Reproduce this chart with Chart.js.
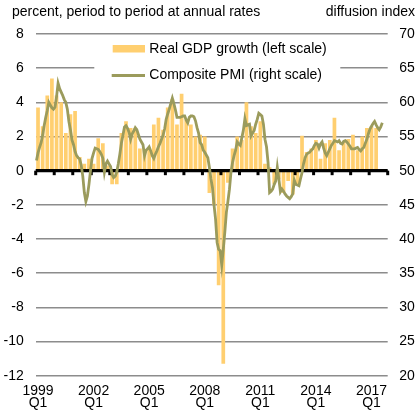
<!DOCTYPE html>
<html>
<head>
<meta charset="utf-8">
<script src="https://cdn.jsdelivr.net/npm/chart.js@4/dist/chart.umd.min.js"></script>
<style>
  html, body { margin: 0; padding: 0; background: #fff; }
  #wrap { position: relative; width: 418px; height: 418px; }
  canvas { position: absolute; left: 0; top: 0; }
  .atitle { position: absolute; top: 3px; font: 14px "Liberation Sans", Arial, sans-serif; color: #000; white-space: nowrap; }
</style>
</head>
<body>
<div id="wrap">
  <canvas id="c" width="418" height="418"></canvas>
  <div class="atitle" style="left:12px;">percent, period to period at annual rates</div>
  <div class="atitle" style="right:3px;">diffusion index</div>
</div>
<script>
// ---- Data ----
const firstYear = 1999;
const lastYear = 2017;
const tickYears = ['1999', '2002', '2005', '2008', '2011', '2014', '2017'];
const legendLabels = ['Real GDP growth (left scale)', 'Composite PMI (right scale)'];

// Real GDP growth, quarterly, % q/q at annual rates (1999Q1 - 2017Q2)
const gdpGrowth = [
  3.7, 2.6, 4.4, 5.4,
  4.4, 4.0, 2.2, 3.3,
  3.5, 0.8, 0.4, 0.7,
  0.4, 1.9, 1.6, 0.3,
  -0.8, -0.8, 2.2, 2.9,
  2.5, 2.5, 1.3, 1.2,
  1.3, 2.7, 3.1, 2.4,
  3.7, 4.2, 2.7, 4.5,
  3.0, 2.7, 2.0, 2.1,
  2.0, -1.3, -2.0, -6.7,
  -11.3, -0.7, 1.3, 2.0,
  1.8, 4.0, 2.6, 2.2,
  2.9, 0.4, 0.2, -0.8,
  -0.5, -1.3, -0.6, -1.4,
  -0.8, 2.05, 1.1, 1.3,
  1.8, 0.7, 1.6, 1.8,
  3.1, 1.2, 1.7, 1.85,
  2.1, 1.2, 2.0, 2.5,
  2.6, 2.5
];

// Composite PMI, monthly diffusion index (Jan 1999 - Sep 2017)
const compositePMI = [
  51.5, 52.6, 53.4, 54.1, 55.2, 56.6, 57.8, 58.8, 60.0, 59.6, 59.2, 59.0,
  59.3, 60.8, 62.8, 62.0, 61.5, 61.0, 60.4, 60.0, 59.0, 57.2, 56.0, 54.5,
  53.8, 52.8, 52.2, 51.9, 51.7, 50.8, 49.2, 46.8, 45.5, 46.3, 48.0, 50.0,
  51.8, 52.6, 53.3, 53.2, 53.1, 52.8, 52.4, 51.8, 49.8, 51.0, 51.4, 51.0,
  50.6, 49.4, 49.0, 49.2, 49.8, 51.0, 52.4, 54.0, 55.2, 56.4, 56.6, 56.2,
  55.6, 54.6, 55.4, 55.8, 56.3, 56.0, 55.3, 54.6, 54.2, 53.8, 52.2, 53.0,
  53.2, 53.5, 52.9, 52.2, 51.8, 52.4, 52.9, 53.5, 54.0, 54.6, 55.2, 56.1,
  57.5, 58.3, 59.0, 59.8, 60.6, 59.8, 58.9, 57.8, 57.8, 57.8, 57.9, 58.0,
  58.0, 57.4, 57.0, 57.8, 58.0, 58.0, 57.9, 57.3, 56.3, 55.5, 54.1, 53.8,
  53.0, 52.7, 52.3, 51.9, 50.5, 48.8, 47.5, 45.0, 42.9, 39.5, 38.5, 38.3,
  36.2, 38.5, 41.0, 43.9, 45.5, 47.3, 49.8, 51.2, 52.2, 53.0, 54.2, 53.9,
  53.7, 54.8, 55.9, 57.6, 56.6, 56.7, 56.8, 55.1, 55.5, 55.9, 56.8, 57.5,
  58.4, 58.2, 58.0, 56.8, 54.6, 53.5, 51.2, 46.8, 47.0, 47.3, 48.0, 48.5,
  50.5, 48.8, 46.9, 47.3, 47.0, 46.6, 46.3, 46.1, 45.9, 46.2, 46.6, 48.6,
  48.0, 47.9, 47.8, 48.8, 49.7, 51.0, 51.9, 52.4, 52.6, 52.7, 53.0, 53.2,
  53.7, 54.0, 53.9, 53.3, 53.9, 54.2, 53.3, 52.6, 52.2, 52.7, 53.2, 53.7,
  54.0, 54.4, 54.3, 54.2, 54.4, 54.0, 53.9, 54.3, 54.4, 54.2, 53.9, 53.6,
  53.2, 53.2, 53.2, 53.3, 53.4, 53.1, 52.9, 53.2, 53.4, 54.0, 54.6, 55.4,
  56.1, 56.5, 56.9, 57.2, 56.7, 56.3, 56.0, 56.4, 57.0
];

// Category labels (quarters for bars, months for the PMI line)
const quarterLabels = [];
const monthLabels = [];
for (let y = firstYear; y <= lastYear; y++) {
  for (let q = 1; q <= 4; q++) quarterLabels.push(y + ' Q' + q);
  for (let m = 1; m <= 12; m++) monthLabels.push(y + '-' + String(m).padStart(2, '0'));
}

// ---- Styles ----
const barColor = '#FFCF70';
const lineColor = '#9B9B5C';
const gridColor = '#8C8C8C';
const FONT = '"Liberation Sans", Arial, sans-serif';

// zero axis with yearly tick marks, drawn after the bars
const zeroAxisPlugin = {
  id: 'zeroAxis',
  afterDatasetDraw(chart, args) {
    if (args.meta.type !== 'bar') return;
    const ctx = chart.ctx, area = chart.chartArea;
    const xs = chart.scales.x, ys = chart.scales.y;
    const y0 = ys.getPixelForValue(0);
    const step = (area.right - area.left) / quarterLabels.length;
    ctx.save();
    ctx.strokeStyle = '#000';
    ctx.lineWidth = 3.2;
    ctx.beginPath();
    ctx.moveTo(area.left, y0);
    ctx.lineTo(area.right, y0);
    ctx.stroke();
    ctx.lineWidth = 3;
    for (let i = 0; i <= quarterLabels.length; i += 4) {
      const px = (i < quarterLabels.length ? xs.getPixelForValue(i) - step / 2 : area.right);
      ctx.beginPath();
      ctx.moveTo(px, y0);
      ctx.lineTo(px, y0 + 4.5);
      ctx.stroke();
    }
    ctx.restore();
  }
};

// legend box inside the plot (covers the gridline behind it)
const legendBoxPlugin = {
  id: 'legendBox',
  beforeDatasetsDraw(chart) {
    const ctx = chart.ctx, a = chart.chartArea;
    const x0 = a.left + 58.6, y0 = a.top + 4;
    ctx.save();
    ctx.fillStyle = '#fff';
    ctx.fillRect(x0, y0, 246, 58);
    ctx.fillStyle = barColor;
    ctx.fillRect(a.left + 77, a.top + 11, 32.3, 7.5);
    ctx.strokeStyle = lineColor;
    ctx.lineWidth = 2.8;
    ctx.beginPath();
    ctx.moveTo(a.left + 76, a.top + 41.5);
    ctx.lineTo(a.left + 109.3, a.top + 41.5);
    ctx.stroke();
    ctx.fillStyle = '#000';
    ctx.font = '14px ' + FONT;
    ctx.textBaseline = 'middle';
    ctx.textAlign = 'left';
    ctx.fillText(legendLabels[0], a.left + 113.6, a.top + 15.5);
    ctx.fillText(legendLabels[1], a.left + 113.6, a.top + 41.5);
    ctx.restore();
  }
};

new Chart(document.getElementById('c'), {
  type: 'bar',
  data: {
    labels: quarterLabels,
    datasets: [
      {
        type: 'bar',
        label: legendLabels[0],
        data: gdpGrowth,
        backgroundColor: barColor,
        borderWidth: 0,
        xAxisID: 'x',
        yAxisID: 'y',
        grouped: false,
        barPercentage: 0.8,
        categoryPercentage: 1.0,
        order: 1
      },
      {
        type: 'line',
        label: legendLabels[1],
        data: compositePMI,
        borderColor: lineColor,
        borderWidth: 2.8,
        pointRadius: 0,
        tension: 0,
        fill: false,
        xAxisID: 'x2',
        yAxisID: 'y2',
        order: 0
      }
    ]
  },
  options: {
    responsive: false,
    animation: false,
    layout: { padding: { top: 34, left: 0, right: 0, bottom: 0 } },
    plugins: {
      legend: { display: false },
      tooltip: { enabled: false },
      title: { display: false }
    },
    scales: {
      x: {
        type: 'category',
        offset: true,
        grid: { display: false, drawTicks: false },
        border: { display: false },
        ticks: {
          autoSkip: false,
          maxRotation: 0,
          minRotation: 0,
          padding: 9,
          color: '#000',
          font: { family: FONT, size: 14, lineHeight: 0.86 },
          callback(val, idx) {
            const parts = quarterLabels[idx].split(' ');
            if (parts[1] === 'Q1' && tickYears.includes(parts[0])) return [parts[0], 'Q1'];
            return '';
          }
        },
        afterFit(s) { s.height = 42.3; }
      },
      x2: {
        type: 'category',
        labels: monthLabels,
        offset: true,
        display: false
      },
      y: {
        position: 'left',
        min: -12,
        max: 8,
        ticks: { stepSize: 2, padding: 12, color: '#000', font: { family: FONT, size: 14 } },
        grid: {
          drawTicks: false,
          color: gridColor,
          lineWidth: 1.4
        },
        border: { display: false },
        afterFit(s) { s.width = 35.7; }
      },
      y2: {
        position: 'right',
        min: 20,
        max: 70,
        ticks: { stepSize: 5, padding: 11.5, color: '#000', font: { family: FONT, size: 14 } },
        grid: { display: false, drawTicks: false },
        border: { display: false },
        afterFit(s) { s.width = 30.3; }
      }
    }
  },
  plugins: [zeroAxisPlugin, legendBoxPlugin]
});
</script>
</body>
</html>
